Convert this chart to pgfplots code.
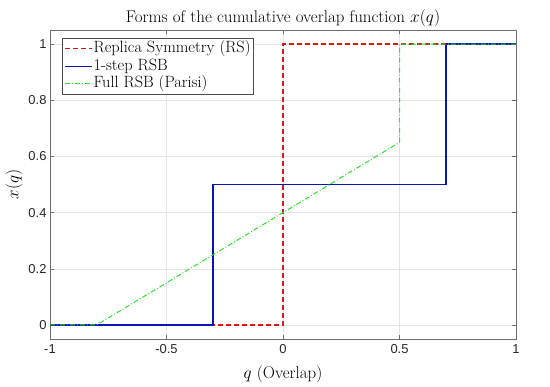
\documentclass[border=0pt]{standalone}
\usepackage{pgfplots}
\pgfplotsset{compat=1.18}
\usepackage{fontspec}
\newfontfamily\ticks{Liberation Sans}
\definecolor{rsred}{RGB}{215,25,25}
\definecolor{rsbblue}{RGB}{10,20,180}
\definecolor{fgreen}{RGB}{40,225,40}
\definecolor{axgray}{RGB}{110,110,110}
\begin{document}
\begin{tikzpicture}
\begin{axis}[
  scale only axis,
  width=466bp, height=309bp,
  xmin=-1, xmax=1, ymin=-0.05, ymax=1.05,
  xtick={-1,-0.5,0,0.5,1},
  ytick={0,0.2,0.4,0.6,0.8,1},
  grid=major,
  major grid style={draw=black!10, line width=0.5pt},
  axis line style={draw=axgray, line width=0.6pt},
  tick style={draw=axgray, line width=0.5pt},
  tick align=inside,
  major tick length=4bp,
  /pgf/number format/assume math mode=true,
  ticklabel style={font=\ticks\fontsize{13}{14}\selectfont, text=black!85},
  xticklabel style={yshift=-2bp},
  title={Forms of the cumulative overlap function $x(q)$},
  title style={font=\fontsize{17}{19}\selectfont, yshift=-6bp},
  xlabel={$q$ (Overlap)},
  ylabel={$x(q)$},
  label style={font=\fontsize{17}{19}\selectfont},
  xlabel style={yshift=-5bp},
  ylabel style={yshift=-1bp},
  legend cell align=left,
  legend image code/.code={\draw[#1] (0bp,0bp) -- (27bp,0bp);},
  legend style={at={(0.026,0.974)}, anchor=north west, draw=black!70, line width=0.5pt,
    font=\fontsize{16.4}{18}\selectfont, inner xsep=2pt, inner ysep=2.5pt, row sep=1.5pt,
    /tikz/every odd column/.style={column sep=0pt},
    nodes={inner xsep=1pt, inner ysep=0pt, text height=12bp, text depth=4bp}},
]
\addplot[rsred, dashed, dash pattern=on 5bp off 3bp, line width=1.1pt] coordinates {(-1,0) (0,0) (0,1) (1,1)};
\addlegendentry{Replica Symmetry (RS)}
\addplot[rsbblue, line width=1.3pt] coordinates {(-1,0) (-0.3,0) (-0.3,0.5) (0.7,0.5) (0.7,1) (1,1)};
\addlegendentry{1-step RSB}
\addplot[fgreen, dash pattern=on 5bp off 2bp on 1bp off 2bp, line width=1pt] coordinates {(-1,0) (-0.8,0) (0.5,0.65) (0.5,1) (1,1)};
\addlegendentry{Full RSB (Parisi)}
\coordinate (bl) at (rel axis cs:0,0);
\end{axis}
\pgfresetboundingbox
\path[use as bounding box] ([shift={(-50bp,-48bp)}]bl) rectangle ++(550bp,387bp);
\end{tikzpicture}
\end{document}
